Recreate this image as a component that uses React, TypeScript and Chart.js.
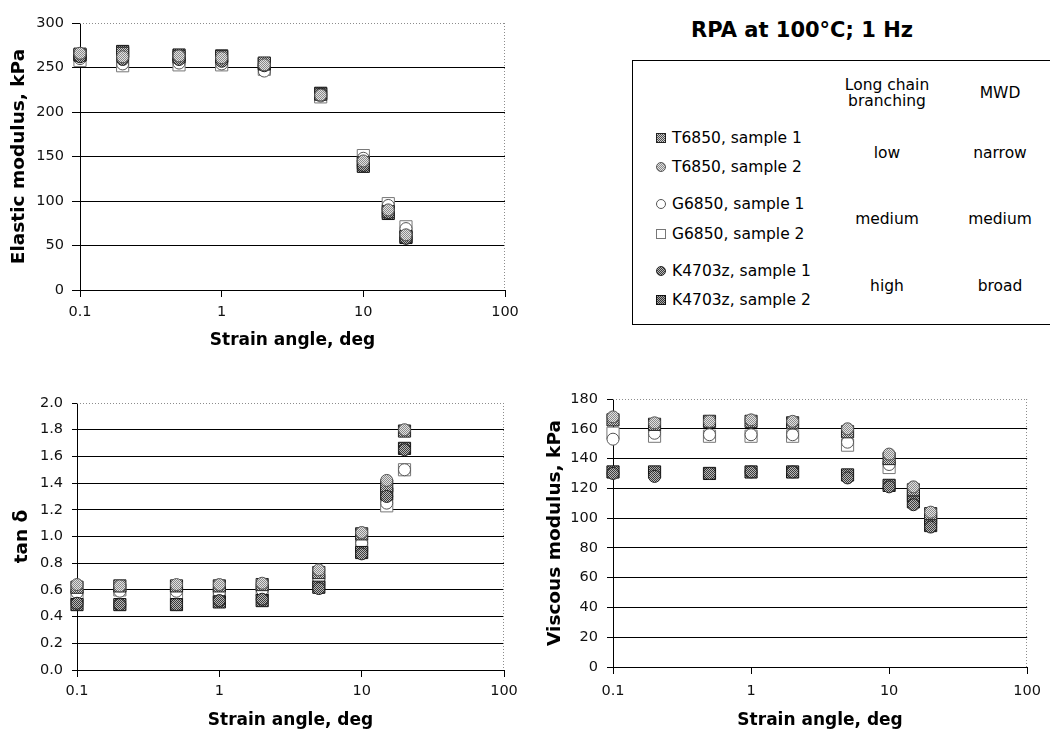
import React, { useEffect, useRef } from "react";
import { Chart, registerables } from "chart.js";

Chart.register(...registerables);

// Strain sweep points (deg) and the decade ticks of the log axis
const strainDeg = [0.1, 0.2, 0.5, 1, 2, 5, 10, 15, 20];
const strainTicks = [0.1, 1, 10, 100];

const sampleNames = [
  "T6850, sample 1",
  "T6850, sample 2",
  "G6850, sample 1",
  "G6850, sample 2",
  "K4703z, sample 1",
  "K4703z, sample 2",
];

// Elastic modulus G', kPa
const elasticT1 = [265, 266, 262, 262, 255, 220, 143, 88, 60];
const elasticT2 = [266, 262, 263, 261, 253, 219, 145, 90, 62];
const elasticG1 = [260, 254, 255, 254, 246, 218, 148, 95, 69];
const elasticG2 = [258, 252, 253, 253, 248, 217, 151, 97, 71];
const elasticK1 = [262, 259, 259, 257, 252, 220, 140, 87, 58];
const elasticK2 = [264, 268, 264, 263, 254, 221, 139, 86, 59];

// Loss tangent, tan δ
const tanDeltaT1 = [0.62, 0.63, 0.63, 0.63, 0.64, 0.73, 1.02, 1.38, 1.79];
const tanDeltaT2 = [0.64, 0.63, 0.64, 0.64, 0.65, 0.75, 1.03, 1.42, 1.8];
const tanDeltaG1 = [0.58, 0.59, 0.59, 0.58, 0.6, 0.68, 0.95, 1.25, 1.5];
const tanDeltaG2 = [0.56, 0.6, 0.58, 0.57, 0.6, 0.67, 0.93, 1.23, 1.5];
const tanDeltaK1 = [0.5, 0.49, 0.49, 0.52, 0.53, 0.61, 0.87, 1.3, 1.65];
const tanDeltaK2 = [0.49, 0.49, 0.49, 0.51, 0.52, 0.62, 0.88, 1.32, 1.66];

// Viscous modulus G'', kPa
const viscousT1 = [166, 163, 165, 165, 164, 158, 140, 119, 103];
const viscousT2 = [168, 164, 165, 166, 165, 160, 143, 121, 104];
const viscousG1 = [153, 157, 156, 156, 156, 151, 136, 116, 100];
const viscousG2 = [157, 155, 155, 155, 155, 149, 134, 115, 100];
const viscousK1 = [130, 128, 130, 131, 131, 127, 121, 109, 94];
const viscousK2 = [131, 131, 130, 131, 131, 129, 122, 111, 95];

// Legend table columns
const branchingLevels = ["low", "medium", "high"];
const mwdLevels = ["narrow", "medium", "broad"];

const FONT = "'DejaVu Sans', 'Liberation Sans', Arial, sans-serif";

type Marker = {
  shape: "rect" | "circle";
  dark: string;
  light: string;
  border: string;
  layer: number; // lower layer is painted on top
};

// Marker look per sample, same order as sampleNames
const markers: Marker[] = [
  { shape: "rect", dark: "#4a4a4a", light: "#cfcfcf", border: "#222", layer: 2 },
  { shape: "circle", dark: "#8a8a8a", light: "#e2e2e2", border: "#555", layer: 0 },
  { shape: "circle", dark: "#ffffff", light: "#ffffff", border: "#555", layer: 4 },
  { shape: "rect", dark: "#ffffff", light: "#ffffff", border: "#777", layer: 5 },
  { shape: "circle", dark: "#3c3c3c", light: "#b8b8b8", border: "#222", layer: 1 },
  { shape: "rect", dark: "#333333", light: "#a8a8a8", border: "#111", layer: 3 },
];

function ditherPattern(ctx: CanvasRenderingContext2D, m: Marker) {
  if (m.dark === m.light) return m.dark;
  const tile = document.createElement("canvas");
  tile.width = 2;
  tile.height = 2;
  const t = tile.getContext("2d")!;
  t.fillStyle = m.light;
  t.fillRect(0, 0, 2, 2);
  t.fillStyle = m.dark;
  t.fillRect(0, 0, 1, 1);
  t.fillRect(1, 1, 1, 1);
  return ctx.createPattern(tile, "repeat") || m.dark;
}

// Dotted grey frame along the top and right of the plot area
const dottedFrame = {
  id: "dottedFrame",
  beforeDatasetsDraw(chart: any) {
    const { ctx, chartArea } = chart;
    const { left, right, top, bottom } = chartArea;
    ctx.save();
    ctx.strokeStyle = "#8c8c8c";
    ctx.lineWidth = 1;
    ctx.setLineDash([1, 2]);
    ctx.beginPath();
    ctx.moveTo(left, Math.round(top) + 0.5);
    ctx.lineTo(right, Math.round(top) + 0.5);
    ctx.moveTo(Math.round(right) - 0.5, top);
    ctx.lineTo(Math.round(right) - 0.5, bottom);
    ctx.stroke();
    ctx.restore();
  },
};

type PanelProps = {
  left: number;
  top: number;
  width: number;
  height: number;
  series: number[][];
  yMin: number;
  yMax: number;
  yStep: number;
  yDecimals: number;
  yTitle: string;
  pad: { left: number; top: number; right: number };
  yAxisWidth: number;
  yTickLength: number;
  yTickPadding: number;
  yTitlePad: number;
  xAxisHeight: number;
  xTickPadding: number;
  xTitlePad: number;
};

function ModulusPanel(p: PanelProps) {
  const ref = useRef<HTMLCanvasElement | null>(null);

  useEffect(() => {
    const canvas = ref.current!;
    const ctx = canvas.getContext("2d")!;
    const datasets = p.series.map((vals, i) => {
      const m = markers[i];
      return {
        label: sampleNames[i],
        data: strainDeg.map((x, k) => ({ x, y: vals[k] })),
        order: m.layer,
        showLine: false,
        clip: false as any,
        pointStyle: m.shape,
        pointRadius: m.shape === "rect" ? 8.6 : 6,
        pointBackgroundColor: ditherPattern(ctx, m),
        pointBorderColor: m.border,
        pointBorderWidth: 1,
      };
    });

    const tickFont = { family: FONT, size: 14.5 };
    const chart = new Chart(canvas, {
      type: "scatter",
      data: { datasets },
      options: {
        animation: false,
        responsive: false,
        maintainAspectRatio: false,
        events: [],
        layout: { padding: { left: p.pad.left, top: p.pad.top, right: p.pad.right, bottom: 0 } },
        plugins: {
          legend: { display: false },
          tooltip: { enabled: false },
        },
        scales: {
          x: {
            type: "logarithmic",
            min: 0.1,
            max: 100,
            afterBuildTicks: (s: any) => {
              s.ticks = strainTicks.map((v) => ({ value: v }));
            },
            afterFit: (s: any) => {
              s.height = p.xAxisHeight;
            },
            ticks: {
              callback: (v: any) => String(v),
              font: tickFont,
              color: "#111",
              padding: p.xTickPadding,
              maxRotation: 0,
              autoSkip: false,
            },
            grid: {
              drawOnChartArea: false,
              drawTicks: true,
              tickLength: 7,
              tickColor: "#000",
              color: "#000",
            },
            border: { display: true, color: "#000", width: 1 },
            title: {
              display: true,
              text: "Strain angle, deg",
              color: "#000",
              font: { family: FONT, size: 17, weight: "bold" },
              padding: { top: 0, bottom: p.xTitlePad },
            },
          },
          y: {
            min: p.yMin,
            max: p.yMax,
            afterFit: (s: any) => {
              s.width = p.yAxisWidth;
            },
            ticks: {
              stepSize: p.yStep,
              callback: (v: any) => Number(v).toFixed(p.yDecimals),
              font: tickFont,
              color: "#111",
              padding: p.yTickPadding,
            },
            grid: {
              color: (c: any) =>
                c.tick && Math.abs(c.tick.value - p.yMax) < 1e-9 ? "rgba(0,0,0,0)" : "#000",
              tickColor: "#000",
              tickLength: p.yTickLength,
              lineWidth: 1,
            },
            border: { display: true, color: "#000", width: 1 },
            title: {
              display: true,
              text: p.yTitle,
              color: "#000",
              font: { family: FONT, size: 18.5, weight: "bold" },
              padding: { top: p.yTitlePad, bottom: 0 },
            },
          },
        },
      } as any,
      plugins: [dottedFrame],
    });
    return () => chart.destroy();
  }, []);

  return (
    <canvas
      ref={ref}
      width={p.width}
      height={p.height}
      style={{ position: "absolute", left: p.left, top: p.top, width: p.width, height: p.height }}
    />
  );
}

function Txt(props: {
  x: number;
  y: number;
  size: number;
  bold?: boolean;
  align?: "center" | "left";
  children: React.ReactNode;
}) {
  const { x, y, size, bold, align = "center", children } = props;
  return (
    <div
      style={{
        position: "absolute",
        left: x,
        top: y - 0.48 * size,
        transform: align === "center" ? "translateX(-50%)" : undefined,
        fontFamily: FONT,
        fontSize: size,
        fontWeight: bold ? "bold" : "normal",
        lineHeight: 1,
        whiteSpace: "nowrap",
        color: "#000",
      }}
    >
      {children}
    </div>
  );
}

function LegendMarker({ m, x, y }: { m: Marker; x: number; y: number }) {
  const bg =
    m.dark === m.light
      ? m.dark
      : `repeating-conic-gradient(${m.dark} 0% 25%, ${m.light} 0% 50%) 0 0 / 2px 2px`;
  const size = 10;
  return (
    <div
      style={{
        position: "absolute",
        left: x - size / 2,
        top: y - size / 2,
        width: size,
        height: size,
        boxSizing: "border-box",
        border: `1px solid ${m.border}`,
        borderRadius: m.shape === "circle" ? "50%" : 0,
        background: bg,
      }}
    />
  );
}

function SampleTable() {
  const rowY = [138, 167, 204, 234, 271, 300];
  const groupY = [153, 219, 286];
  return (
    <>
      <Txt x={802} y={30} size={21} bold>
        RPA at 100°C; 1 Hz
      </Txt>
      <div
        style={{
          position: "absolute",
          left: 632,
          top: 60,
          width: 480,
          height: 265,
          boxSizing: "border-box",
          border: "1px solid #000",
        }}
      />
      <Txt x={887} y={85} size={15.5}>
        Long chain
      </Txt>
      <Txt x={887} y={101} size={15.5}>
        branching
      </Txt>
      <Txt x={1000} y={93} size={15.5}>
        MWD
      </Txt>
      {sampleNames.map((name, i) => (
        <React.Fragment key={name}>
          <LegendMarker m={markers[i]} x={661} y={rowY[i]} />
          <Txt x={672} y={rowY[i]} size={15.5} align="left">
            {name}
          </Txt>
        </React.Fragment>
      ))}
      {groupY.map((y, i) => (
        <React.Fragment key={y}>
          <Txt x={887} y={y} size={15.5}>
            {branchingLevels[i]}
          </Txt>
          <Txt x={1000} y={y} size={15.5}>
            {mwdLevels[i]}
          </Txt>
        </React.Fragment>
      ))}
    </>
  );
}

export default function App() {
  return (
    <div
      style={{
        position: "absolute",
        left: 0,
        top: 0,
        width: 1050,
        height: 731,
        overflow: "hidden",
        background: "#fff",
      }}
    >
      <ModulusPanel
        left={0}
        top={0}
        width={530}
        height={360}
        series={[elasticT1, elasticT2, elasticG1, elasticG2, elasticK1, elasticK2]}
        yMin={0}
        yMax={300}
        yStep={50}
        yDecimals={0}
        yTitle="Elastic modulus, kPa"
        pad={{ left: 0, top: 23, right: 25 }}
        yAxisWidth={80}
        yTickLength={8}
        yTickPadding={8}
        yTitlePad={8.5}
        xAxisHeight={70}
        xTickPadding={7}
        xTitlePad={9}
      />
      <ModulusPanel
        left={0}
        top={360}
        width={530}
        height={371}
        series={[tanDeltaT1, tanDeltaT2, tanDeltaG1, tanDeltaG2, tanDeltaK1, tanDeltaK2]}
        yMin={0}
        yMax={2}
        yStep={0.2}
        yDecimals={1}
        yTitle="tan δ"
        pad={{ left: 0, top: 43, right: 26 }}
        yAxisWidth={77}
        yTickLength={5}
        yTickPadding={9}
        yTitlePad={11}
        xAxisHeight={61}
        xTickPadding={6}
        xTitlePad={0}
      />
      <ModulusPanel
        left={530}
        top={360}
        width={520}
        height={371}
        series={[viscousT1, viscousT2, viscousG1, viscousG2, viscousK1, viscousK2]}
        yMin={0}
        yMax={180}
        yStep={20}
        yDecimals={0}
        yTitle="Viscous modulus, kPa"
        pad={{ left: 0, top: 39, right: 13 }}
        yAxisWidth={83}
        yTickLength={6}
        yTickPadding={9}
        yTitlePad={14}
        xAxisHeight={64}
        xTickPadding={9}
        xTitlePad={0}
      />
      <SampleTable />
    </div>
  );
}
